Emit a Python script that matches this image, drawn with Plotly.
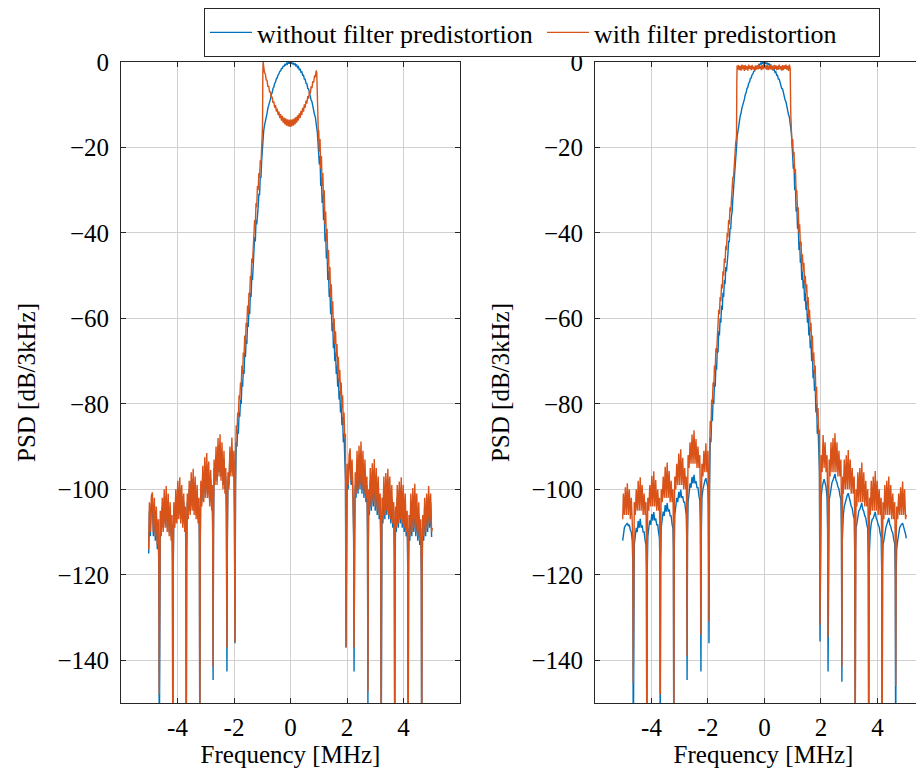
import plotly.graph_objects as go

# ---------------- frequency grid (MHz) ----------------
f_side_left = [
    -5.02, -4.995, -4.96, -4.925, -4.89, -4.855, -4.82, -4.785, -4.75, -4.715, -4.68, -4.66, -4.645,
    -4.63, -4.61, -4.575, -4.54, -4.505, -4.47, -4.435, -4.40, -4.365, -4.33, -4.295, -4.26, -4.225, -4.195, -4.18, -4.165,
    -4.15, -4.13, -4.095, -4.06, -4.025, -3.99, -3.955, -3.92, -3.885, -3.85, -3.815, -3.78, -3.745, -3.72, -3.705, -3.69,
    -3.675, -3.655, -3.62, -3.585, -3.55, -3.515, -3.48, -3.445, -3.41, -3.375, -3.34, -3.305, -3.27, -3.24, -3.225, -3.21,
    -3.195, -3.175, -3.14, -3.105, -3.07, -3.035, -3.0, -2.965, -2.93, -2.895, -2.86, -2.825, -2.79, -2.77, -2.755, -2.74,
    -2.725, -2.705, -2.67, -2.635, -2.60, -2.565, -2.53, -2.495, -2.46, -2.425, -2.39, -2.355, -2.32, -2.29, -2.27, -2.25,
    -2.235, -2.215, -2.18, -2.145, -2.11, -2.075, -2.04, -2.005, -1.985, -1.965]
f_skirt_left = [
    -1.945, -1.92, -1.895, -1.87, -1.845, -1.82, -1.795, -1.77, -1.745, -1.72, -1.695, -1.67, -1.645,
    -1.62, -1.595, -1.57, -1.545, -1.52, -1.495, -1.47, -1.445, -1.42, -1.395, -1.37, -1.345, -1.32,
    -1.295, -1.27, -1.245, -1.22, -1.195, -1.17, -1.145, -1.12, -1.095, -1.07, -1.045, -1.02, -1.0]
f_main = [
    -0.99, -0.98, -0.97, -0.95,
    -0.92, -0.89, -0.86, -0.83, -0.80, -0.77, -0.74, -0.71, -0.68, -0.65,
    -0.62, -0.59, -0.56, -0.53, -0.50, -0.47, -0.44, -0.41, -0.38, -0.35,
    -0.32, -0.29, -0.26, -0.23, -0.20, -0.17, -0.14, -0.11, -0.08, -0.05,
    -0.02, 0.01, 0.04, 0.07, 0.10, 0.13, 0.16, 0.19, 0.22, 0.25,
    0.28, 0.31, 0.34, 0.37, 0.40, 0.43, 0.46, 0.49, 0.52, 0.55,
    0.58, 0.61, 0.64, 0.67, 0.70, 0.73, 0.76, 0.79, 0.82, 0.85,
    0.88, 0.91,
    0.93, 0.95, 0.97, 0.99]
f_skirt_right = [
    1.0, 1.02, 1.045, 1.07, 1.095, 1.12, 1.145, 1.17, 1.195, 1.22, 1.245, 1.27, 1.295,
    1.32, 1.345, 1.37, 1.395, 1.42, 1.445, 1.47, 1.495, 1.52, 1.545, 1.57, 1.595, 1.62,
    1.645, 1.67, 1.695, 1.72, 1.745, 1.77, 1.795, 1.82, 1.845, 1.87, 1.895, 1.92, 1.945]
f_side_right = [
    1.965, 1.985, 2.005, 2.04, 2.075, 2.11, 2.145, 2.18, 2.215, 2.235,
    2.25, 2.27, 2.29, 2.32, 2.355, 2.39, 2.425, 2.46, 2.495, 2.53, 2.565, 2.60, 2.635, 2.67, 2.705, 2.725,
    2.74, 2.755, 2.77, 2.79, 2.825, 2.86, 2.895, 2.93, 2.965, 3.0, 3.035, 3.07, 3.105, 3.14, 3.175, 3.195,
    3.21, 3.225, 3.24, 3.27, 3.305, 3.34, 3.375, 3.41, 3.445, 3.48, 3.515, 3.55, 3.585, 3.62, 3.655, 3.675,
    3.69, 3.705, 3.72, 3.745, 3.78, 3.815, 3.85, 3.885, 3.92, 3.955, 3.99, 4.025, 4.06, 4.095, 4.13, 4.15,
    4.165, 4.18, 4.195, 4.225, 4.26, 4.295, 4.33, 4.365, 4.40, 4.435, 4.47, 4.505, 4.54, 4.575, 4.61, 4.63,
    4.645, 4.66, 4.68, 4.715, 4.75, 4.785, 4.82, 4.855, 4.89, 4.925, 4.96, 4.995, 5.02]

# ---------------- left panel: without predistortion (dB/3kHz) ----------------
lw_side_left = [
    -115, -105, -111, -103.5, -103, -111, -104.5, -112, -106, -114, -109, -120, -165,
    -121, -107, -110, -104, -109, -102, -108, -101.5, -109, -103.5, -110, -105, -111, -108, -117, -165,
    -119, -105, -108, -102, -107, -100, -106, -99.5, -107, -101.5, -108, -103, -109, -106, -115, -165,
    -117, -103, -106, -100, -105, -98, -104, -97.5, -105, -99.5, -106, -101, -107, -104, -113, -165,
    -114, -100, -103, -96.5, -102, -94.5, -101, -94, -101, -96, -103, -97.5, -104, -101, -110, -144.6,
    -110, -95, -98, -92, -98, -90, -96, -89.5, -97, -91.5, -99, -93, -100, -97, -106, -142.6,
    -112, -98, -99, -92, -96, -90.5, -96, -93, -106, -136]
lw_skirt_left = [
    -100, -89, -90, -86, -87, -82, -83, -79, -80, -75, -76, -72, -73,
    -68, -69, -65, -66, -61, -62, -58, -59, -54, -55, -50, -51, -46,
    -46, -41, -42, -37, -38, -34, -34, -31, -31, -27, -27, -23, -20]
without_main = [
    -21, -19, -17.5, -16.2,
    -14.8, -14.0, -12.6, -12.0, -10.8, -10.2, -9.1, -8.7, -7.6, -7.2,
    -6.2, -5.9, -5.0, -4.7, -3.9, -3.7, -3.0, -2.8, -2.2, -2.1,
    -1.5, -1.5, -1.0, -1.0, -0.6, -0.7, -0.3, -0.5, 0.0, -0.4,
    0.0, -0.4, -0.1, -0.5, -0.2, -0.6, -0.4, -0.9, -0.7, -1.3,
    -1.1, -1.8, -1.6, -2.4, -2.3, -3.1, -3.1, -4.0, -4.0, -5.0,
    -5.1, -6.2, -6.3, -7.5, -7.7, -8.9, -9.3, -10.5, -11.0, -12.3,
    -12.9, -14.3,
    -15.0, -16.5, -18.5, -21]
lw_skirt_right = [
    -21, -24, -22, -29, -27, -33, -31, -37, -35, -42, -40, -46, -44,
    -51, -49, -55, -53, -59, -57, -63, -61, -67, -65, -70, -68, -73,
    -71, -76, -74, -79, -77, -82, -80, -85, -83, -89, -87, -93, -98]
lw_side_right = [
    -137, -108, -97, -100, -94, -93, -99, -95, -102, -112,
    -142.6, -110, -99, -102, -94, -101, -92, -100, -91.5, -101, -94, -102, -96, -103, -99, -111,
    -150, -114, -103, -106, -98, -105, -96, -104, -95.5, -105, -98, -106, -100, -107, -103, -115,
    -165, -116, -105, -108, -100, -107, -98, -106, -97.5, -107, -100, -108, -102, -109, -105, -117,
    -165, -118, -107, -110, -102, -109, -100, -108, -99.5, -109, -102, -110, -104, -111, -107, -119,
    -165, -120, -109, -112, -104, -111, -101.5, -110, -101, -111, -104, -112, -106, -113, -109, -121,
    -165, -120, -108, -112, -104, -111, -103, -110, -101.5, -109, -103, -111, -111]

# ---------------- left panel: with predistortion ----------------
lp_side_left = [
    -114, -103, -110, -101.5, -100.7, -110, -102, -111, -104, -113, -107, -118, -148,
    -119, -105, -111, -102, -110, -100, -109, -99.2, -110, -101, -111, -103, -112, -106, -115, -165,
    -117, -103, -109, -100, -108, -98, -107, -97.2, -108, -99, -109, -101, -110, -104, -113, -165,
    -115, -101, -107, -98, -106, -96, -105, -95.2, -106, -97, -107, -99, -108, -102, -111, -165,
    -112, -98, -104, -94.5, -103, -92.5, -102, -91.5, -102, -93.5, -104, -95.5, -105, -99, -108, -141.4,
    -108, -93, -99, -90, -99, -88, -97, -87.1, -98, -89, -100, -91, -101, -95, -104, -137,
    -110, -96, -100, -90, -97, -87.9, -97, -91, -104, -135.8]
lp_skirt_left = [
    -92, -85, -87, -82, -83, -78, -79, -75, -76, -71, -73, -68, -69,
    -64, -66, -61, -62, -57, -59, -54, -55, -50, -51, -46, -47, -42,
    -42, -37, -38, -33, -34, -29, -30, -26, -27, -23, -24, -19, -17]
lp_main = [
    -15, -3, 0, -1,
    -2.5, -2.8, -4.2, -4.3, -5.8, -5.6, -7.1, -6.9, -8.4, -8.1,
    -9.6, -9.2, -10.7, -10.1, -11.6, -10.9, -12.4, -11.6, -13.1, -12.2,
    -13.7, -12.6, -14.2, -13.0, -14.6, -13.2, -14.9, -13.4, -15.1, -13.5,
    -15.2, -13.5, -15.1, -13.4, -14.9, -13.2, -14.6, -12.9, -14.2, -12.5,
    -13.7, -12.0, -13.1, -11.4, -12.4, -10.7, -11.6, -9.9, -10.7, -9.0,
    -9.7, -8.0, -8.6, -6.9, -7.4, -5.7, -6.1, -4.5, -4.8, -3.3,
    -3.4, -2.0,
    -2.5, -10, -16, -18]
lp_skirt_right = [
    -16, -21, -18, -25, -22, -29, -26, -33, -30, -38, -35, -42, -39,
    -47, -44, -51, -48, -55, -52, -59, -56, -63, -60, -66, -63, -69,
    -66, -72, -69, -75, -72, -78, -75, -81, -78, -85, -82, -88, -87]
lp_side_right = [
    -137, -106, -94, -99, -92, -90.4, -98, -93, -101, -110,
    -137, -107, -96, -101, -91, -100, -89.8, -99, -88.8, -100, -91, -101, -93, -102, -97, -108,
    -147.3, -111, -100, -105, -95, -104, -93.9, -103, -92.9, -104, -95, -105, -97, -106, -101, -112,
    -165, -113, -102, -107, -97, -106, -96.2, -105, -95.2, -106, -97, -107, -99, -108, -103, -114,
    -165, -115, -104, -109, -99, -108, -98.2, -107, -97.2, -108, -99, -109, -101, -110, -105, -116,
    -165, -117, -106, -111, -101, -110, -99.7, -109, -98.7, -110, -101, -111, -103, -112, -107, -118,
    -165, -118, -106, -111, -102, -110, -101, -109, -99.2, -108, -101, -110, -109]

# ---------------- right panel: without predistortion ----------------
rw_side_left = [
    -112, -110, -109, -108.5, -108.3, -107.9, -108.6, -108.3, -109.5, -110, -112, -118, -165,
    -121, -113, -111, -109, -110, -107.4, -109, -106.9, -109, -108.4, -110, -110, -112, -113, -118, -165,
    -119, -111, -109, -107.3, -108.3, -105.8, -107.3, -105.3, -107.3, -106.8, -108.3, -108.3, -110.3, -111.3, -116, -165,
    -117, -109, -107, -105.2, -106.2, -103.7, -105.2, -103.2, -105.2, -104.7, -106.2, -106.2, -108.2, -109.2, -114, -165,
    -114, -106, -104, -102, -103, -100.6, -102, -100.1, -102, -101.6, -103, -103, -105, -106, -111, -144.6,
    -111, -103, -101, -98.6, -99.6, -97.1, -98.6, -96.6, -98.6, -98.1, -99.6, -99.6, -101.6, -102.6, -108, -142.6,
    -110, -102, -100, -98.5, -98, -97.4, -98.5, -99.5, -104, -136]
rw_skirt_left = [
    -100, -88, -89, -83, -84, -79, -80, -75, -76, -71, -72, -67, -68,
    -63, -64, -60, -61, -57, -58, -54, -55, -51, -52, -48, -49, -45,
    -45, -42, -42, -39, -39, -36, -35, -32, -30, -27, -25, -23, -21]
rw_skirt_right = [
    -21, -25, -24, -30, -29, -35, -34, -39, -38, -44, -42, -47, -46,
    -51, -49, -53, -51, -56, -54, -58, -56, -61, -59, -64, -62, -67,
    -65, -70, -68, -74, -72, -77, -75, -82, -80, -87, -85, -91, -96]
rw_side_right = [
    -135.6, -108, -102, -99.5, -98, -97.6, -98.5, -99.5, -102, -110,
    -142.6, -107.4, -102.4, -101.4, -99.4, -98.4, -97.9, -96.9, -96.4, -97.9, -98.4, -99.4, -99.9, -101.4, -102.4, -110.4,
    -145, -112, -107, -106, -104, -103, -102.4, -101.4, -100.9, -102.4, -102.9, -103.9, -104.4, -105.9, -106.9, -115,
    -165, -114, -109, -108, -106, -105, -104.7, -103.7, -103.2, -104.7, -105.2, -106.2, -106.7, -108.2, -109.2, -117,
    -165, -116, -111, -110, -108, -107, -106.8, -105.8, -105.3, -106.8, -107.3, -108.3, -108.8, -110.3, -111.3, -119,
    -165, -118, -113, -112, -110, -109, -108.2, -107.2, -106.7, -108.2, -108.7, -109.7, -110.2, -111.7, -112.7, -121,
    -165, -120, -114, -112, -110, -109, -108.5, -108.2, -107.9, -108.8, -109.5, -110.5, -111.5]

# ---------------- right panel: with predistortion ----------------
rp_side_left = [
    -107, -101, -106, -99.5, -106, -98.6, -106, -100, -107, -102, -108, -116, -145.3,
    -115, -103, -106, -100, -105, -98, -105, -97.2, -105, -99, -106, -101, -106, -103, -112, -165,
    -114, -102, -105, -99, -104, -96.8, -104, -95.8, -104, -97.8, -105, -100, -105, -102, -111, -148,
    -112, -100, -103, -97, -102, -94.7, -102, -93.7, -102, -95.7, -103, -98, -103, -100, -109, -165,
    -109, -97, -100, -94, -99, -91.6, -99, -90.6, -99, -92.6, -100, -95, -100, -97, -106, -139,
    -104, -92, -95, -89, -94, -87.2, -94, -86.2, -94, -88.2, -95, -90, -95, -92, -101, -134,
    -104, -94, -97, -91, -96, -89.2, -96, -91, -100, -131]
rp_skirt_left = [
    -92, -84, -86, -79, -80, -75, -76, -71, -72, -67, -68, -63, -63,
    -58, -59, -55, -56, -52, -53, -49, -50, -46, -47, -43, -44, -40,
    -41, -37, -38, -34, -35, -31, -31, -27, -27, -23, -22, -19, -18]
rp_main = [
    -17, -5, -0.8, -1.8,
    -0.7, -1.9, -0.9, -2.0, -0.6, -1.7, -0.8, -2.1, -0.7, -1.8,
    -1.0, -2.0, -0.6, -1.6, -0.9, -1.9, -0.7, -1.7, -1.1, -2.0,
    -0.8, -1.8, -0.9, -1.7, -0.6, -1.6, -0.9, -1.9, -0.7, -1.7,
    -0.5, -1.5, -0.8, -1.8, -0.7, -1.9, -0.9, -1.7, -0.6, -1.8,
    -1.0, -2.0, -0.7, -1.6, -0.8, -1.9, -0.9, -1.8, -0.6, -1.7,
    -1.0, -2.0, -0.7, -1.9, -0.8, -1.6, -0.6, -1.8, -0.9, -2.1,
    -0.6, -1.5,
    -12, -17, -19, -20]
rp_skirt_right = [
    -18, -22, -21, -26, -25, -31, -30, -35, -34, -40, -38, -43, -42,
    -47, -45, -49, -47, -52, -50, -54, -52, -57, -55, -60, -58, -63,
    -61, -66, -64, -70, -68, -73, -71, -78, -76, -83, -81, -87, -86]
rp_side_right = [
    -131.7, -100, -92, -96, -87.3, -95, -89, -96, -92, -103,
    -134.5, -104, -93, -97, -89, -96, -88, -96, -86.9, -96, -89, -97, -91, -97, -93, -103,
    -141.4, -108, -97, -101, -93, -100, -92, -100, -90.8, -100, -93, -101, -95, -101, -97, -107,
    -165, -111, -100, -104, -96, -103, -95, -103, -93.7, -103, -96, -104, -98, -104, -100, -110,
    -165, -113, -102, -106, -98, -105, -97, -105, -95.7, -105, -98, -106, -100, -106, -102, -112,
    -165, -114, -103, -107, -99, -106, -98, -106, -97, -106, -99, -107, -101, -107, -103, -113,
    -146, -114, -104, -107, -101, -106, -99.5, -106, -98.2, -106, -100, -107, -106]

x_tick_vals = [-4, -2, 0, 2, 4]
x_tick_text = ["-4", "-2", "0", "2", "4"]
y_tick_vals = [0, -20, -40, -60, -80, -100, -120, -140]
y_tick_text = ["0", "\u221220", "\u221240", "\u221260", "\u221280", "\u2212100", "\u2212120", "\u2212140"]

BLUE = "#0072BD"
ORANGE = "#D95319"
FONT = "Liberation Serif, serif"

freq = f_side_left + f_skirt_left + f_main + f_skirt_right + f_side_right


def series(*parts):
    vals = [v for p in parts for v in p]
    if len(vals) != len(freq):
        raise ValueError("length mismatch %d vs %d" % (len(vals), len(freq)))
    return vals


left_without = series(lw_side_left, lw_skirt_left, without_main, lw_skirt_right, lw_side_right)
left_with = series(lp_side_left, lp_skirt_left, lp_main, lp_skirt_right, lp_side_right)
right_without = series(rw_side_left, rw_skirt_left, without_main, rw_skirt_right, rw_side_right)
right_with = series(rp_side_left, rp_skirt_left, rp_main, rp_skirt_right, rp_side_right)

LW = 1.4
fig = go.Figure()
fig.add_trace(go.Scatter(x=freq, y=left_without, mode="lines", name="without filter predistortion",
                         line=dict(color=BLUE, width=LW), xaxis="x", yaxis="y"))
fig.add_trace(go.Scatter(x=freq, y=left_with, mode="lines", name="with filter predistortion",
                         line=dict(color=ORANGE, width=LW), xaxis="x", yaxis="y"))
fig.add_trace(go.Scatter(x=freq, y=right_without, mode="lines", showlegend=False,
                         line=dict(color=BLUE, width=LW), xaxis="x2", yaxis="y2"))
fig.add_trace(go.Scatter(x=freq, y=right_with, mode="lines", showlegend=False,
                         line=dict(color=ORANGE, width=LW), xaxis="x2", yaxis="y2"))

FS = 25
axis_common = dict(showline=True, linecolor="#262626", linewidth=1, mirror="allticks",
                   ticks="inside", ticklen=5, tickcolor="#262626", tickwidth=1,
                   showgrid=True, gridcolor="#d0d0d0", gridwidth=1, zeroline=False,
                   automargin=False, tickfont=dict(family=FONT, size=FS, color="black"))

# page is offset by the 8 px body margin, so figure px = picture px - 8
# plot area in figure px: x 113..(924), y 54..695
ML, MT, MB = 113, 54, 74
PW = 924 - ML
PH = 769 - MT - MB
xdom_left = [0.0, (452 - ML) / PW]
xdom_right = [(587 - ML) / PW, 1.0]

fig.update_layout(
    width=924, height=769,
    margin=dict(l=ML, r=0, t=MT, b=MB, autoexpand=False),
    paper_bgcolor="white", plot_bgcolor="white",
    font=dict(family=FONT, size=FS, color="black"),
    xaxis=dict(domain=xdom_left, range=[-6, 6], anchor="y",
               tickvals=x_tick_vals, ticktext=x_tick_text, ticklabelstandoff=2,
               title=dict(text="Frequency [MHz]", standoff=4, font=dict(size=FS)), **axis_common),
    yaxis=dict(domain=[0, 1], range=[-150, 0], anchor="x",
               tickvals=y_tick_vals, ticktext=y_tick_text, ticklabelstandoff=6,
               title=dict(text="PSD [dB/3kHz]", standoff=14, font=dict(size=FS)), **axis_common),
    xaxis2=dict(domain=xdom_right, range=[-6, 5.93], anchor="y2",
                tickvals=x_tick_vals, ticktext=x_tick_text, ticklabelstandoff=2,
                title=dict(text="Frequency [MHz]", standoff=4, font=dict(size=FS)), **axis_common),
    yaxis2=dict(domain=[0, 1], range=[-150, 0], anchor="x2",
                tickvals=y_tick_vals, ticktext=y_tick_text, ticklabelstandoff=6,
                title=dict(text="PSD [dB/3kHz]", standoff=14, font=dict(size=FS)), **axis_common),
    legend=dict(orientation="h", x=(534 - ML) / PW, xanchor="center",
                y=1 + MT / PH, yanchor="top",
                bordercolor="#262626", borderwidth=1, bgcolor="white",
                font=dict(family=FONT, size=26, color="black"),
                entrywidth=280, entrywidthmode="pixels", itemwidth=42, tracegroupgap=0),
    showlegend=True,
)

fig.write_html("out.html")
